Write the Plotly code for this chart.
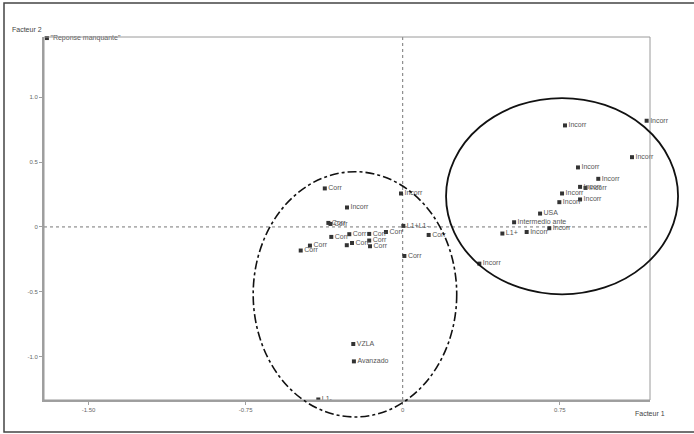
import plotly.graph_objects as go

# ---- data ----
labels = ['"Reponse manquante"',
          "Corr", "Incorr", "Incorr", "Corr", "Corr", "L1+L1-", "Corr", "Corr", "Corr",
          "Corr", "Corr", "Corr", "", "Corr", "Corr", "Corr", "Corr", "Corr",
          "VZLA", "Avanzado", "L1-",
          "Incorr", "Incorr", "Incorr", "Incorr", "Incorr", "Incorr", "Incorr",
          "Incorr", "Incorr", "Incorr", "USA", "Intermedio ante", "Incorr", "Incorr",
          "L1+", "Incorr"]
factor1 = [-1.699,
           -0.372, -0.266, -0.008, -0.355, -0.345, 0.003, -0.341, -0.255, -0.160,
           -0.080, 0.124, -0.242, -0.267, -0.160, -0.156, -0.443, -0.487, 0.008,
           -0.236, -0.233, -0.403,
           0.775, 1.165, 1.095, 0.837, 0.934, 0.847, 0.873,
           0.761, 0.748, 0.847, 0.656, 0.532, 0.700, 0.592,
           0.476, 0.366]
factor2 = [1.457,
           0.297, 0.150, 0.258, 0.031, 0.023, 0.008, -0.077, -0.056, -0.054,
           -0.039, -0.062, -0.124, -0.141, -0.105, -0.149, -0.144, -0.182, -0.224,
           -0.903, -1.037, -1.331,
           0.783, 0.819, 0.538, 0.459, 0.371, 0.309, 0.301,
           0.258, 0.191, 0.212, 0.103, 0.036, -0.010, -0.039,
           -0.051, -0.283]

x_tickvals = [-1.5, -0.75, 0, 0.75]
x_ticktext = ["-1.50", "-0.75", "0", "0.75"]
y_tickvals = [1.0, 0.5, 0, -0.5, -1.0]
y_ticktext = ["1.0", "0.5", "0", "-0.5", "-1.0"]

# groups (ellipses) in data units: centre x, centre y, half-width, half-height
ellipse_left = dict(cx=-0.228, cy=-0.520, rx=0.486, ry=0.946)
ellipse_right = dict(cx=0.761, cy=0.237, rx=0.554, ry=0.757)

XR = [-1.713, 1.181]
YR = [-1.335, 1.465]

def px(x):
    return (x - XR[0]) / (XR[1] - XR[0])

def py(y):
    return (y - YR[0]) / (YR[1] - YR[0])

fig = go.Figure()
fig.add_trace(go.Scatter(
    x=factor1, y=factor2, mode="markers+text", text=labels,
    textposition="middle right",
    textfont=dict(family="Liberation Sans, Arial, sans-serif", size=7, color="#555555"),
    marker=dict(symbol="square", size=4, color="#333333"),
    cliponaxis=False, hoverinfo="skip", showlegend=False))

shapes = []
# dotted zero lines
shapes.append(dict(type="line", xref="x", yref="paper", x0=0, x1=0, y0=0, y1=1,
                   line=dict(color="#777777", width=1, dash="dot"), layer="below"))
shapes.append(dict(type="line", xref="paper", yref="y", x0=0, x1=1, y0=0, y1=0,
                   line=dict(color="#777777", width=1, dash="dot"), layer="below"))
# thin frame top/right
shapes.append(dict(type="rect", xref="paper", yref="paper", x0=0, x1=1, y0=0, y1=1,
                   line=dict(color="#9a9a9a", width=1)))
# ellipses
e = ellipse_left
shapes.append(dict(type="circle", xref="paper", yref="paper",
                   x0=px(e["cx"] - e["rx"]), x1=px(e["cx"] + e["rx"]),
                   y0=py(e["cy"] - e["ry"]), y1=py(e["cy"] + e["ry"]),
                   line=dict(color="#111111", width=1.6, dash="dashdot")))
e = ellipse_right
shapes.append(dict(type="circle", xref="paper", yref="paper",
                   x0=px(e["cx"] - e["rx"]), x1=px(e["cx"] + e["rx"]),
                   y0=py(e["cy"] - e["ry"]), y1=py(e["cy"] + e["ry"]),
                   line=dict(color="#111111", width=1.8)))
# outer border
shapes.append(dict(type="rect", xref="paper", yref="paper",
                   x0=-40 / 606, x1=700 / 606, y0=-32 / 363, y1=397 / 363,
                   line=dict(color="#444444", width=1.5)))

axis_font = dict(family="Liberation Sans, Arial, sans-serif", size=6, color="#666666")

fig.update_layout(
    width=694, height=434,
    margin=dict(l=44, r=44, t=37, b=34),
    paper_bgcolor="white", plot_bgcolor="white",
    font=dict(family="Liberation Sans, Arial, sans-serif"),
    xaxis=dict(range=XR, tickvals=x_tickvals, ticktext=x_ticktext,
               showgrid=False, zeroline=False, showline=True, linecolor="#a0a0a0",
               linewidth=2, ticks="outside", ticklen=3, tickcolor="#a0a0a0",
               tickfont=axis_font, fixedrange=True),
    yaxis=dict(range=YR, tickvals=y_tickvals, ticktext=y_ticktext,
               showgrid=False, zeroline=False, showline=True, linecolor="#a0a0a0",
               linewidth=2, ticks="outside", ticklen=3, tickcolor="#a0a0a0",
               tickfont=axis_font, fixedrange=True),
    shapes=shapes,
    annotations=[
        dict(text="Facteur 2", xref="paper", yref="paper", x=-34 / 606, y=370 / 363,
             xanchor="left", yanchor="middle", showarrow=False,
             font=dict(size=7, color="#444444")),
        dict(text="Facteur 1", xref="paper", yref="paper", x=1.0, y=-13 / 363,
             xanchor="center", yanchor="middle", showarrow=False,
             font=dict(size=7, color="#444444")),
    ],
)

fig.write_html("out.html")
